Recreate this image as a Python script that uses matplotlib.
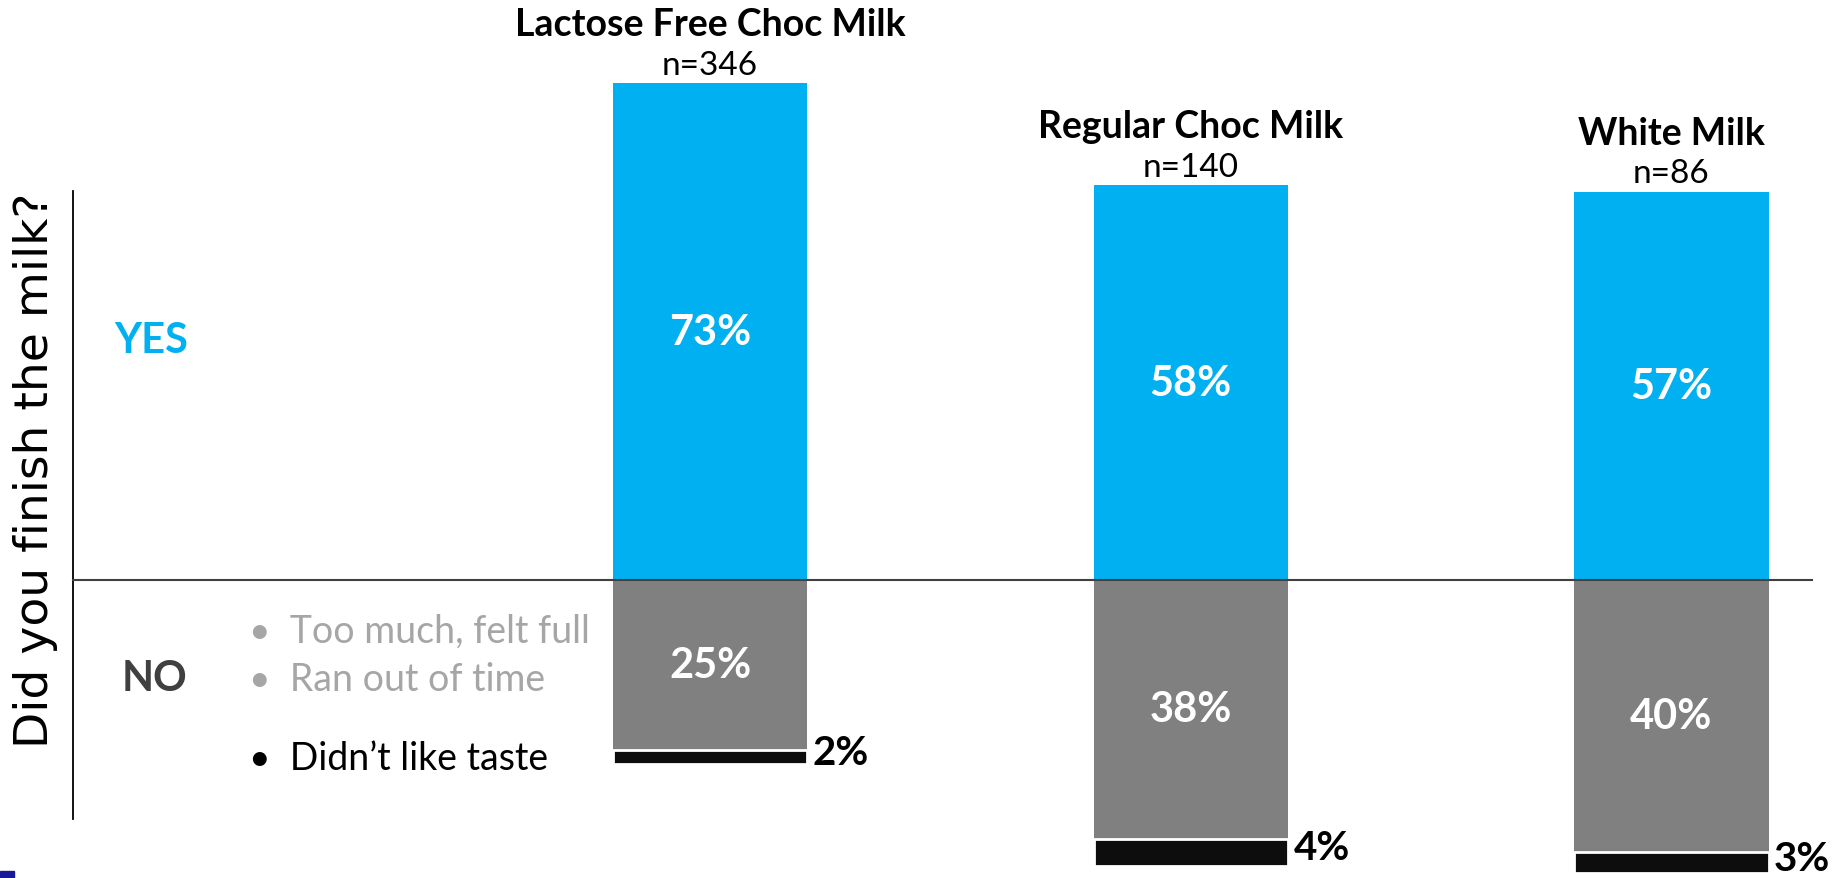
import matplotlib.pyplot as plt
from matplotlib.patches import Rectangle

products = ['Lactose Free Choc Milk', 'Regular Choc Milk', 'White Milk']
sample_sizes = ['n=346', 'n=140', 'n=86']
yes_pct = [73, 58, 57]
no_pct = [25, 38, 40]
taste_pct = [2, 4, 3]
reasons = ['Too much, felt full', 'Ran out of time', 'Didn\u2019t like taste']

BLUE = '#00B0F0'
GRAY = '#808080'
BLACK = '#0D0D0D'

plt.rcParams['font.family'] = ['Lato', 'DejaVu Sans']

fig = plt.figure(figsize=(18.45, 8.79), dpi=100)
ax = fig.add_axes([0, 0, 1, 1])
ax.set_xlim(-1.477, 2.361)
ax.set_ylim(-43.8, 85.4)
ax.axis('off')

x = list(range(len(products)))
w = 0.404

ax.bar(x, yes_pct, width=w, color=BLUE, linewidth=0)
ax.bar(x, [-v for v in no_pct], width=w, color=GRAY, linewidth=0)
bottoms = [-v for v in no_pct]
ax.bar(x, [-v for v in taste_pct], width=w, bottom=bottoms, color=BLACK,
       edgecolor='white', linewidth=2)

# axis lines
ax.plot([-1.325, -1.325], [57.2, -35.1], color='black', lw=1.3)
ax.plot([-1.325, 2.292], [0, 0], color='#404040', lw=1.5)

for i in x:
    ax.text(i, yes_pct[i] / 2, f'{yes_pct[i]}%', color='white', fontsize=30,
            fontweight='bold', ha='center', va='center')
    ax.text(i, -no_pct[i] / 2, f'{no_pct[i]}%', color='white', fontsize=30,
            fontweight='bold', ha='center', va='center')
    ax.annotate(f'{taste_pct[i]}%', (i + w / 2, -no_pct[i] - taste_pct[i] / 2),
                xytext=(4, 3), textcoords='offset points', fontsize=29,
                fontweight='bold', ha='left', va='center', color='black')
    ax.annotate(sample_sizes[i], (i, yes_pct[i]), xytext=(0, 7),
                textcoords='offset points', fontsize=24, ha='center',
                va='baseline')
    ax.annotate(products[i], (i, yes_pct[i]), xytext=(0, 35),
                textcoords='offset points', fontsize=27, fontweight='bold',
                ha='center', va='baseline')

fig.text(0.019, 0.465, 'Did you finish the milk?', rotation=90, fontsize=34,
         family='DejaVu Sans', ha='center', va='center')
fig.text(0.062, 0.612, 'YES', color=BLUE, fontsize=30, fontweight='bold',
         ha='left', va='center')
fig.text(0.066, 0.228, 'NO', color='#404040', fontsize=30, fontweight='bold',
         ha='left', va='center')

reason_colors = ['#A6A6A6', '#A6A6A6', 'black']
reason_y = [0.281, 0.226, 0.137]
for r, c, yy in zip(reasons, reason_colors, reason_y):
    fig.text(0.135, yy, '\u2022  ' + r, color=c, fontsize=27, ha='left',
             va='center')

fig.patches.append(Rectangle((0, 0), 0.0076, 0.008, transform=fig.transFigure,
                             color='#1A1A99', figure=fig))

fig.savefig('out.png', dpi=100)
